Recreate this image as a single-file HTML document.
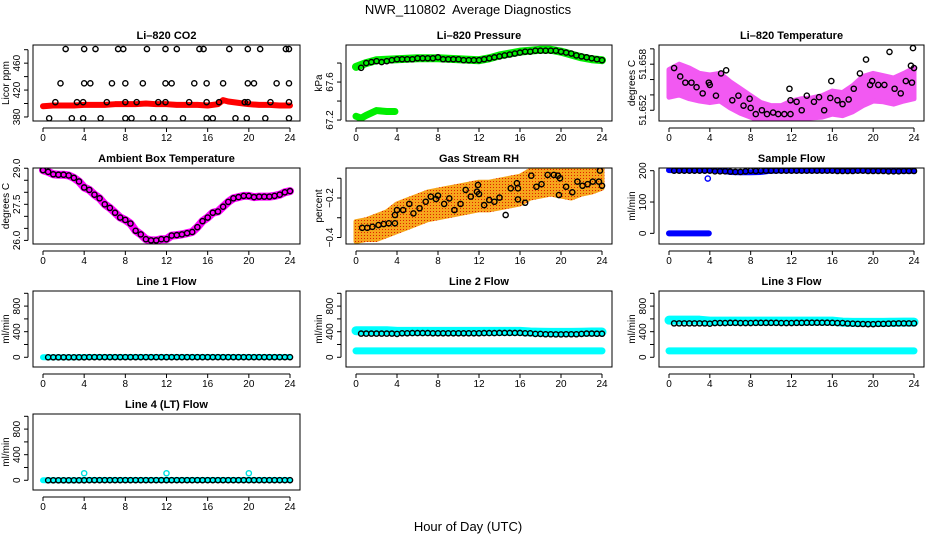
<!DOCTYPE html>
<html><head><meta charset="utf-8">
<style>
html,body{margin:0;padding:0;background:#fff;}
svg{display:block;font-family:"Liberation Sans",sans-serif;}
</style></head>
<body>
<svg id="chart" width="936" height="540" viewBox="0 0 936 540" xmlns="http://www.w3.org/2000/svg">
<defs>
<pattern id="rhpat" width="3" height="3" patternUnits="userSpaceOnUse">
<rect width="3" height="3" fill="#f6a51c"/><rect x="1" y="1" width="1" height="1" fill="#e02000"/>
</pattern>
</defs>
<text x="468" y="14" text-anchor="middle" font-size="13" xml:space="preserve">NWR_110802  Average Diagnostics</text>
<text x="468" y="531" text-anchor="middle" font-size="13">Hour of Day (UTC)</text>
</svg>
<script>
// ---------- data ----------
const halfHours = [0.5,1,1.5,2,2.5,3,3.5,4,4.5,5,5.5,6,6.5,7,7.5,8,8.5,9,9.5,10,10.5,11,11.5,12,12.5,13,13.5,14,14.5,15,15.5,16,16.5,17,17.5,18,18.5,19,19.5,20,20.5,21,21.5,22,22.5,23,23.5,24];
const hourly = [0,1,2,3,4,5,6,7,8,9,10,11,12,13,14,15,16,17,18,19,20,21,22,23,24];

// CO2
const co2BandHours = [0,1,2,3,4,5,6,7,8,9,10,11,12,13,14,15,16,17,17.5,18,19,20,21,22,23,24];
const co2BandValues = [396,397,397,397,398,398,398,399,399,399,400,399,399,398,398,398,397,399,405,403,401,399,398,398,397,397];
const co2PtHours = [2.2,4,5.1,7.3,7.8,10.1,11.9,13,15.2,15.6,18.1,19.9,21.1,23.6,23.9,
  1.7,4,4.6,6.7,8,9.7,11.9,12.5,14.7,15.9,17.5,19.9,20.5,22.7,23.9,
  1.2,3.3,3.9,6.2,8,9.1,11.2,11.9,14.2,15.9,17.1,19.6,19.9,22.1,23.9,
  0.6,2.8,3.9,5.6,8,8.6,10.7,11.8,13.6,15.9,16.5,18.7,19.8,21.6,23.9];
const co2PtValues = [481,481,481,481,481,481,481,481,481,481,481,481,481,481,481,
  430,430,430,430,430,430,430,430,430,430,430,430,430,430,430,
  402,402,402,402,402,402,402,402,402,402,402,402,402,402,402,
  378,378,378,378,378,378,378,378,378,378,378,378,378,378,378];

// Pressure
const presHours = [0,1,2,4,6,8,10,12,13,14,15,16,17,18,19,20,21,22,23,24];
const presValues = [67.76,67.80,67.83,67.84,67.85,67.85,67.84,67.83,67.85,67.88,67.90,67.92,67.93,67.94,67.94,67.92,67.89,67.86,67.84,67.83];
const presLowHours = [0,0.5,1,2,3,3.8];
const presLowValues = [67.24,67.22,67.25,67.30,67.29,67.29];
const presPtValues = [67.75,67.80,67.81,67.82,67.81,67.82,67.83,67.84,67.84,67.84,67.84,67.85,67.85,67.85,67.85,67.86,67.84,67.84,67.84,67.84,67.83,67.83,67.83,67.83,67.84,67.85,67.86,67.87,67.88,67.89,67.90,67.91,67.92,67.92,67.93,67.93,67.93,67.93,67.93,67.92,67.91,67.90,67.88,67.87,67.86,67.85,67.84,67.83];

// Li-820 temperature
const ltMid = [51.6555,51.6560,51.6555,51.6550,51.6548,51.6550,51.6540,51.6532,51.6525,51.6518,51.6515,51.6515,51.6520,51.6522,51.6523,51.6525,51.6530,51.6528,51.6535,51.6545,51.6550,51.6548,51.6545,51.6550,51.6555];
const ltSpread = [0.0018,0.0020,0.0020,0.0018,0.0018,0.0018,0.0017,0.0016,0.0014,0.0012,0.0011,0.0011,0.0012,0.0013,0.0013,0.0014,0.0015,0.0015,0.0017,0.0019,0.0018,0.0017,0.0017,0.0018,0.0020];
const ltPtHours = [0.5,1.1,1.6,2.2,2.7,3.3,3.9,4,4.6,5.1,5.6,6.2,6.8,7.3,7.9,8,8.5,9.1,9.6,10.2,10.7,11.3,11.9,11.8,11.9,12.5,13,13.5,14.2,14.7,15.2,15.8,15.9,16.5,17,17.6,18.1,18.7,19.3,19.7,19.9,20.5,21.1,21.6,22.1,22.7,23.2,23.7,23.8,23.9,24];
const ltPtValues = [51.6575,51.6564,51.6556,51.6556,51.6550,51.6542,51.6556,51.6553,51.6539,51.6568,51.6572,51.6533,51.6539,51.6526,51.6535,51.6523,51.6515,51.6520,51.6515,51.6517,51.6515,51.6515,51.6515,51.6548,51.6533,51.6531,51.6520,51.6539,51.6531,51.6537,51.6520,51.6536,51.6558,51.6533,51.6528,51.6534,51.6548,51.6568,51.6586,51.6553,51.6558,51.6553,51.6553,51.6596,51.6548,51.6542,51.6558,51.6578,51.6556,51.6601,51.6575];

// Ambient box temperature
const ambHours = [0,0.5,1,1.5,2,2.5,3,3.5,4,4.5,5,5.5,6,6.5,7,7.5,8,8.5,9,9.5,10,10.5,11,11.5,12,12.5,13,13.5,14,14.5,15,15.5,16,16.5,17,17.5,18,18.5,19,19.5,20,20.5,21,21.5,22,22.5,23,23.5,24];
const ambValues = [28.92,28.85,28.75,28.73,28.73,28.70,28.60,28.45,28.20,28.10,27.90,27.75,27.50,27.35,27.15,26.95,26.85,26.70,26.40,26.25,26.05,26.00,26.00,26.05,26.05,26.20,26.22,26.25,26.30,26.35,26.55,26.80,26.95,27.15,27.20,27.40,27.60,27.75,27.80,27.85,27.85,27.80,27.82,27.82,27.82,27.85,27.90,28.00,28.05];

// Gas stream RH
const rhMid = [-0.37,-0.36,-0.35,-0.33,-0.30,-0.28,-0.26,-0.24,-0.23,-0.22,-0.21,-0.20,-0.19,-0.19,-0.18,-0.17,-0.16,-0.13,-0.12,-0.11,-0.12,-0.13,-0.12,-0.11,-0.10];
const rhSpread = [0.05,0.05,0.06,0.06,0.07,0.07,0.07,0.07,0.07,0.07,0.07,0.07,0.07,0.07,0.07,0.07,0.07,0.07,0.07,0.07,0.07,0.07,0.06,0.06,0.05];
const rhPtHours = [0.6,1.1,1.6,2.2,2.7,3.2,3.8,3.8,4,4.6,5.2,5.6,6.2,6.8,7.3,7.8,8,8.6,9.1,9.6,10.2,10.7,11.2,11.8,11.9,12,12.5,13,13.5,14,14.6,15.1,15.7,15.8,15.8,16.5,17.1,17.6,18.1,18.7,19.3,19.7,19.9,19.8,20.5,21.1,21.6,22.1,22.6,23.1,23.7,23.8,24];
const rhPtValues = [-0.351,-0.351,-0.346,-0.337,-0.332,-0.328,-0.328,-0.286,-0.261,-0.261,-0.230,-0.278,-0.252,-0.219,-0.193,-0.205,-0.188,-0.230,-0.202,-0.261,-0.230,-0.159,-0.193,-0.168,-0.134,-0.180,-0.236,-0.210,-0.219,-0.198,-0.286,-0.151,-0.125,-0.151,-0.207,-0.224,-0.087,-0.143,-0.130,-0.083,-0.083,-0.087,-0.100,-0.185,-0.143,-0.171,-0.117,-0.138,-0.130,-0.117,-0.117,-0.061,-0.138];

// Sample flow
const sfValues = [202,202,202,202,202,201,196,195,195,196,200,201,201,201,201,201,201,201,201,201,201,201,200,200,200];
const sfLowHours = [0,1,2,3,3.9];
const sfLowValues = [0,0,0,0,0];
const sfPtValues = [200,200,200,200,200,200,200,200,198,198,198,197,196,196,198,200,199,200,200,200,200,200,200,200,200,200,200,200,200,200,200,200,199,199,199,199,200,200,199,199,199,199,198,198,198,199,199,199];

// Line flows
const l1Cyan = [0,0,0,0,5,5,5,5,5,5,5,5,5,5,5,5,5,5,5,5,5,5,5,5,5];
const l1Pt = [0,0,0,0,0,0,0,0,2,2,2,2,2,2,2,2,2,2,2,2,2,2,2,2,2,2,2,2,2,2,2,2,2,2,2,2,2,2,2,2,2,2,2,2,2,2,2,2];
const l2CyanHigh = [415,415,415,415,405,405,405,405,405,405,405,405,405,405,405,405,405,395,392,390,390,390,392,395,395];
const l2CyanLow = [100,100,100,100,100,100,100,100,100,100,100,100,100,100,100,100,100,100,100,100,100,100,100,100,100];
const l2Pt = [370,370,370,370,370,370,370,365,375,375,378,378,378,378,375,375,375,375,375,375,375,375,375,375,378,378,378,380,380,380,380,380,375,375,365,365,360,360,358,358,360,360,360,365,370,370,368,368];
const l3CyanHigh = [580,580,580,580,565,565,565,565,565,565,565,565,565,565,565,565,565,550,545,545,545,545,548,550,550];
const l3CyanLow = [100,100,100,100,100,100,100,100,100,100,100,100,100,100,100,100,100,100,100,100,100,100,100,100,100];
const l3Pt = [530,530,530,530,530,530,530,525,535,535,535,538,538,535,535,535,538,538,538,538,538,535,535,535,538,538,540,540,540,540,540,538,535,535,528,525,522,520,518,518,522,522,525,528,530,530,530,530];
const l4Cyan = [0,0,0,0,5,5,5,5,5,5,5,5,5,5,5,5,5,5,5,5,5,5,5,5,5];
const l4OutHours = [4,12,20];
const l4OutValues = [110,110,110];
const l4Pt = [0,0,0,0,0,0,0,0,2,2,2,2,2,2,2,2,2,2,2,2,2,2,2,2,2,2,2,2,2,2,2,2,2,2,2,2,2,2,2,2,2,2,2,2,2,2,2,2];

// tick arrays
const xTicks = [0,4,8,12,16,20,24];
const co2Ticks = [380,400,420,440,460,480];
const co2Labels = ["380","","420","","460",""];
const presTicks = [67.2,67.4,67.6,67.8];
const presLabels = ["67.2","","67.6",""];
const ltTicks = [51.652,51.654,51.656,51.658,51.660];
const ltLabels = ["51.652","","","51.658",""];
const ambTicks = [26.0,26.5,27.0,27.5,28.0,28.5,29.0];
const ambLabels = ["26.0","","","27.5","","","29.0"];
const rhTicks = [-0.4,-0.3,-0.2,-0.1];
const rhLabels = ["-0.4","","-0.2",""];
const sfTicks = [0,100,200];
const sfLabels = ["0","100","200"];
const flowTicks = [0,200,400,600,800,1000];
const flowLabels = ["0","","400","","800",""];

// ---------- drawing ----------
const NS = "http://www.w3.org/2000/svg";
const svg = document.getElementById("chart");
const colLeft = [33,346,659], colRight = [300,612,924];
const rowTop = [45,168,291,414], boxH = 76;

function mk(tag, parent){ const e = document.createElementNS(NS, tag); parent.appendChild(e); return e; }

function panel(name, col, row, ymin, ymax, title, ylab, yt, yl){
  const g = mk("g", svg);
  
  
  const L = colLeft[col], R = colRight[col], T = rowTop[row], B = T + boxH;
  const xs = h => L + 10 + h / 24 * (R - L - 20);
  const ys = v => B - (v - ymin) / (ymax - ymin) * boxH;
  const clipId = "clip-" + name;
  const cp = mk("clipPath", g); cp.setAttribute("id", clipId);
  const cr = mk("rect", cp); cr.setAttribute("x", L); cr.setAttribute("y", T); cr.setAttribute("width", R - L); cr.setAttribute("height", boxH);
  const plot = mk("g", g); plot.setAttribute("clip-path", "url(#" + clipId + ")");
  
  
  const box = mk("rect", g);
  
  
  box.setAttribute("x", L); box.setAttribute("y", T); box.setAttribute("width", R - L); box.setAttribute("height", boxH);
  box.setAttribute("fill", "none"); box.setAttribute("stroke", "#000"); box.setAttribute("stroke-width", "1");
  const t = mk("text", g);
  
  
  t.setAttribute("x", (L + R) / 2); t.setAttribute("y", T - 6); t.setAttribute("text-anchor", "middle");
  t.setAttribute("font-size", "11"); t.setAttribute("font-weight", "bold"); t.textContent = title;
  const xa = mk("g", g);
  
  
  const ay = B + 7;
  const xl = mk("line", xa); xl.setAttribute("x1", xs(0)); xl.setAttribute("x2", xs(24)); xl.setAttribute("y1", ay); xl.setAttribute("y2", ay); xl.setAttribute("stroke", "#000");
  xTicks.forEach(v => {
    const tk = mk("line", xa); tk.setAttribute("x1", xs(v)); tk.setAttribute("x2", xs(v)); tk.setAttribute("y1", ay); tk.setAttribute("y2", ay + 4); tk.setAttribute("stroke", "#000");
    const tl = mk("text", xa);
    
    
    tl.setAttribute("x", xs(v)); tl.setAttribute("y", B + 20); tl.setAttribute("text-anchor", "middle"); tl.setAttribute("font-size", "10"); tl.textContent = v;
  });
  const ya = mk("g", g);
  
  
  const ax = L - 5;
  const yl1 = mk("line", ya); yl1.setAttribute("x1", ax); yl1.setAttribute("x2", ax); yl1.setAttribute("y1", ys(yt[0])); yl1.setAttribute("y2", ys(yt[yt.length - 1])); yl1.setAttribute("stroke", "#000");
  yt.forEach((v, i) => {
    const tk = mk("line", ya); tk.setAttribute("x1", ax - 4); tk.setAttribute("x2", ax); tk.setAttribute("y1", ys(v)); tk.setAttribute("y2", ys(v)); tk.setAttribute("stroke", "#000");
    if (yl[i]) {
      const tl = mk("text", ya);
      
      
      tl.setAttribute("transform", "translate(" + (L - 13) + "," + ys(v) + ") rotate(-90)");
      tl.setAttribute("text-anchor", "middle"); tl.setAttribute("font-size", "10"); tl.textContent = yl[i].replace("-", "\u2212");
    }
  });
  const yt2 = mk("text", g);
  
  
  yt2.setAttribute("transform", "translate(" + (L - 24) + "," + (T + boxH / 2) + ") rotate(-90)");
  yt2.setAttribute("text-anchor", "middle"); yt2.setAttribute("font-size", "10"); yt2.textContent = ylab;
  return {plot, xs, ys};
}

function band(p, hs, vs, color, w, nm){
  const pl = mk("polyline", p.plot);
  
  
  pl.setAttribute("points", hs.map((h, i) => p.xs(h) + "," + p.ys(vs[i])).join(" "));
  pl.setAttribute("fill", "none"); pl.setAttribute("stroke", color); pl.setAttribute("stroke-width", w);
  pl.setAttribute("stroke-linejoin", "round"); pl.setAttribute("stroke-linecap", "round");
}
function cloud(p, hs, mid, spr, color, nm, op){
  const up = hs.map((h, i) => p.xs(h) + "," + p.ys(mid[i] + spr[i]));
  const dn = hs.map((h, i) => p.xs(h) + "," + p.ys(mid[i] - spr[i])).reverse();
  const pg = mk("polygon", p.plot);
  
  
  pg.setAttribute("points", up.concat(dn).join(" "));
  pg.setAttribute("fill", color); pg.setAttribute("stroke", color); pg.setAttribute("stroke-width", "5"); pg.setAttribute("stroke-linejoin", "round");
  if (op) pg.setAttribute("opacity", op);
}
function pts(p, hs, vs, color, nm, r){
  hs.forEach((h, i) => {
    const c = mk("circle", p.plot);
    
    
    c.setAttribute("cx", p.xs(h)); c.setAttribute("cy", p.ys(vs[i])); c.setAttribute("r", r || 2.6);
    c.setAttribute("fill", "none"); c.setAttribute("stroke", color); c.setAttribute("stroke-width", "1.4");
  });
}

let p = panel("co2", 0, 0, 374, 487, "Li\u2013820 CO2", "Licor ppm", co2Ticks, co2Labels);
band(p, co2BandHours, co2BandValues, "#ff0000", 6, "co2-series");
pts(p, co2PtHours, co2PtValues, "#000", "co2-average-point");

p = panel("pressure", 1, 0, 67.19, 67.99, "Li\u2013820 Pressure", "kPa", presTicks, presLabels);
band(p, presHours, presValues, "#00ee00", 8, "pressure-series");
band(p, presLowHours, presLowValues, "#00ee00", 7, "pressure-low-series");
pts(p, halfHours, presPtValues, "#000", "pressure-average-point");

p = panel("li-temp", 2, 0, 51.6506, 51.6605, "Li\u2013820 Temperature", "degrees C", ltTicks, ltLabels);
cloud(p, hourly, ltMid, ltSpread, "#f030f0", "li-temp-cloud", "0.8");
pts(p, ltPtHours, ltPtValues, "#000", "li-temp-average-point");

p = panel("ambient", 0, 1, 25.85, 29.01, "Ambient Box Temperature", "degrees C", ambTicks, ambLabels);
band(p, ambHours, ambValues, "#ff00ff", 8, "ambient-series");
pts(p, ambHours, ambValues, "#000", "ambient-average-point");

p = panel("rh", 1, 1, -0.433, -0.048, "Gas Stream RH", "percent", rhTicks, rhLabels);
cloud(p, hourly, rhMid, rhSpread, "url(#rhpat)", "rh-cloud");
pts(p, rhPtHours, rhPtValues, "#000", "rh-average-point");

p = panel("sample-flow", 2, 1, -34, 208.6, "Sample Flow", "ml/min", sfTicks, sfLabels);
band(p, hourly, sfValues, "#0000ff", 6, "sample-flow-series");
band(p, sfLowHours, sfLowValues, "#0000ff", 6, "sample-flow-low-series");
pts(p, [3.8], [175], "#0000ff", "sample-flow-outlier");
pts(p, halfHours, sfPtValues, "#000", "sample-flow-average-point");

p = panel("line1", 0, 2, -152, 1036, "Line 1 Flow", "ml/min", flowTicks, flowLabels);
band(p, hourly, l1Cyan, "#00ffff", 6, "line1-series");
pts(p, halfHours, l1Pt, "#000", "line1-average-point");

p = panel("line2", 1, 2, -152, 1036, "Line 2 Flow", "ml/min", flowTicks, flowLabels);
band(p, hourly, l2CyanHigh, "#00ffff", 9, "line2-high-series");
band(p, hourly, l2CyanLow, "#00ffff", 7, "line2-low-series");
pts(p, halfHours, l2Pt, "#000", "line2-average-point");

p = panel("line3", 2, 2, -152, 1036, "Line 3 Flow", "ml/min", flowTicks, flowLabels);
band(p, hourly, l3CyanHigh, "#00ffff", 9, "line3-high-series");
band(p, hourly, l3CyanLow, "#00ffff", 7, "line3-low-series");
pts(p, halfHours, l3Pt, "#000", "line3-average-point");

p = panel("line4", 0, 3, -152, 1036, "Line 4 (LT) Flow", "ml/min", flowTicks, flowLabels);
band(p, hourly, l4Cyan, "#00ffff", 6, "line4-series");
pts(p, l4OutHours, l4OutValues, "#00e0e0", "line4-outlier");
pts(p, halfHours, l4Pt, "#000", "line4-average-point");
</script>
</body></html>
